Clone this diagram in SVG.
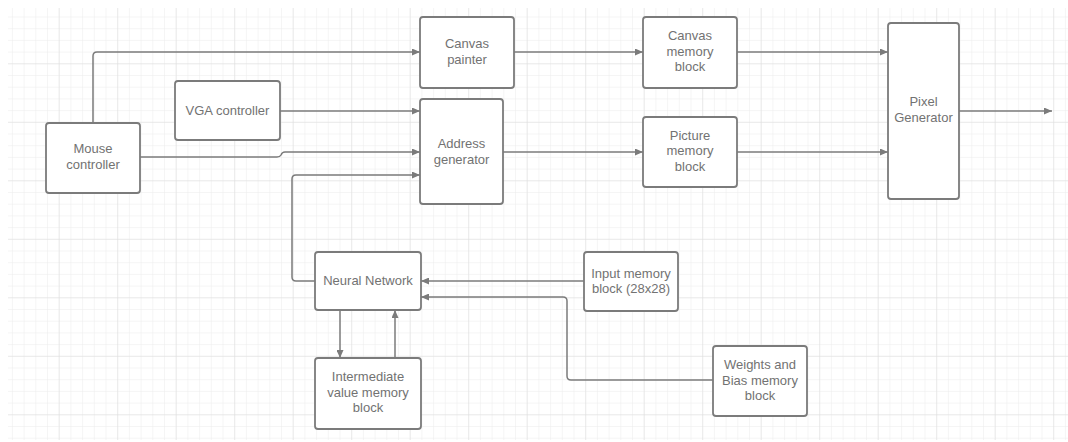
<svg xmlns="http://www.w3.org/2000/svg" width="1068" height="442" viewBox="0 0 1068 442">
  <defs>
    <pattern id="minor" x="0.2" y="4.8" width="11.7" height="11.7" patternUnits="userSpaceOnUse">
      <path d="M0,0 H11.7 M0,0 V11.7" fill="none" stroke="#ebebeb" stroke-width="1"/>
    </pattern>
    <pattern id="major" x="0.2" y="4.8" width="58.5" height="58.5" patternUnits="userSpaceOnUse">
      <path d="M0,0 H58.5 M0,0 V58.5" fill="none" stroke="#dedede" stroke-width="1"/>
    </pattern>
    <marker id="arrow" viewBox="0 0 8 7" refX="8" refY="3.5" markerWidth="8" markerHeight="7" markerUnits="userSpaceOnUse" orient="auto">
      <path d="M0,0 L8,3.5 L0,7 z" fill="#7b7b7b"/>
    </marker>
    <style>
      .box { fill: #ffffff; stroke: #7b7b7b; stroke-width: 1.8; }
      .label { font-family: "Liberation Sans", Arial, sans-serif; font-size: 13px; fill: #727272; text-anchor: middle; }
      .wire { fill: none; stroke: #7b7b7b; stroke-width: 1.5; }
      .arrowed { marker-end: url(#arrow); }
    </style>
  </defs>

  <!-- background grid -->
  <rect width="1068" height="442" fill="#ffffff"/>
  <rect x="8" y="8" width="1060" height="432" fill="url(#minor)"/>
  <rect x="8" y="8" width="1060" height="432" fill="url(#major)"/>

  <!-- connectors -->
  <g id="connectors">
    <path class="wire arrowed" d="M93,123 V56 Q93,52 97,52 H420"/>
    <path class="wire arrowed" d="M280,111 H420"/>
    <path class="wire arrowed" d="M140,157 H277 Q280,157 281,155 Q282,152 285,152 H420"/>
    <path class="wire arrowed" d="M315,281 H296 Q292,281 292,277 V179 Q292,175 296,175 H420"/>
    <path class="wire arrowed" d="M514,52 H643"/>
    <path class="wire arrowed" d="M503,152 H643"/>
    <path class="wire arrowed" d="M737,52 H888"/>
    <path class="wire arrowed" d="M737,152 H888"/>
    <path class="wire arrowed" d="M959,111 H1052"/>
    <path class="wire arrowed" d="M584,281 H421"/>
    <path class="wire arrowed" d="M713,380 H571 Q567,380 567,376 V301 Q567,297 563,297 H421"/>
    <path class="wire arrowed" d="M340,310 V358"/>
    <path class="wire arrowed" d="M395,358 V310"/>
  </g>

  <!-- nodes -->
  <g id="mouse-controller">
    <rect class="box" x="46" y="123" width="94" height="70" rx="3"/>
    <text class="label" x="93" y="153">Mouse</text>
    <text class="label" x="93" y="169">controller</text>
  </g>
  <g id="vga-controller">
    <rect class="box" x="175" y="81" width="105" height="59" rx="3"/>
    <text class="label" x="227.5" y="115">VGA controller</text>
  </g>
  <g id="canvas-painter">
    <rect class="box" x="420" y="17" width="94" height="71" rx="3"/>
    <text class="label" x="467" y="47.5">Canvas</text>
    <text class="label" x="467" y="63.5">painter</text>
  </g>
  <g id="address-generator">
    <rect class="box" x="420" y="99" width="83" height="105" rx="3"/>
    <text class="label" x="461.5" y="148">Address</text>
    <text class="label" x="461.5" y="164">generator</text>
  </g>
  <g id="canvas-memory-block">
    <rect class="box" x="643" y="17" width="94" height="71" rx="3"/>
    <text class="label" x="690" y="40">Canvas</text>
    <text class="label" x="690" y="55.5">memory</text>
    <text class="label" x="690" y="71">block</text>
  </g>
  <g id="picture-memory-block">
    <rect class="box" x="643" y="117" width="94" height="70" rx="3"/>
    <text class="label" x="690" y="139.5">Picture</text>
    <text class="label" x="690" y="155">memory</text>
    <text class="label" x="690" y="170.5">block</text>
  </g>
  <g id="pixel-generator">
    <rect class="box" x="888" y="23" width="71" height="176" rx="3"/>
    <text class="label" x="923.5" y="106">Pixel</text>
    <text class="label" x="923.5" y="122">Generator</text>
  </g>
  <g id="neural-network">
    <rect class="box" x="315" y="252" width="106" height="58" rx="3"/>
    <text class="label" x="368" y="285">Neural Network</text>
  </g>
  <g id="intermediate-memory-block">
    <rect class="box" x="315" y="358" width="106" height="71" rx="3"/>
    <text class="label" x="368" y="381">Intermediate</text>
    <text class="label" x="368" y="396.5">value memory</text>
    <text class="label" x="368" y="412">block</text>
  </g>
  <g id="input-memory-block">
    <rect class="box" x="584" y="252" width="94" height="59" rx="3"/>
    <text class="label" x="631" y="277.5">Input memory</text>
    <text class="label" x="631" y="293">block (28x28)</text>
  </g>
  <g id="weights-bias-memory-block">
    <rect class="box" x="713" y="346" width="94" height="70" rx="3"/>
    <text class="label" x="760" y="369">Weights and</text>
    <text class="label" x="760" y="384.5">Bias memory</text>
    <text class="label" x="760" y="400">block</text>
  </g>
</svg>
